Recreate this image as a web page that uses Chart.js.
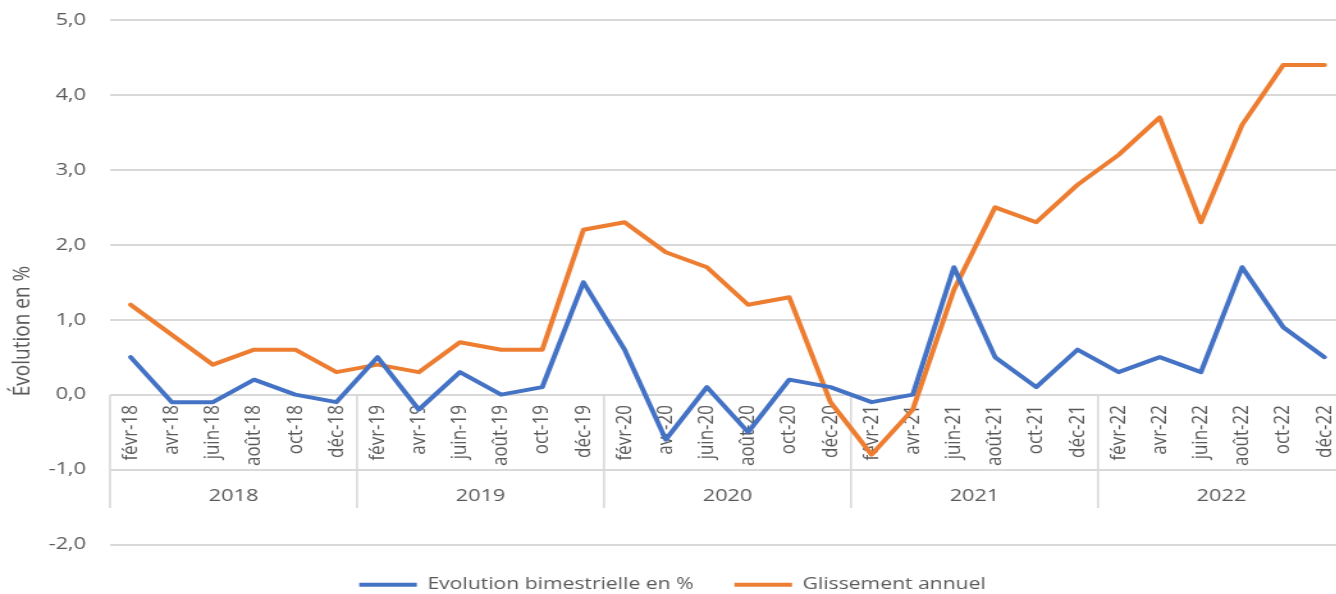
<!DOCTYPE html>
<html lang="fr">
<head>
<meta charset="utf-8">
<title>Évolution en %</title>
<script src="https://cdn.jsdelivr.net/npm/chart.js@4.4.1/dist/chart.umd.min.js"></script>
<style>
  html, body { margin: 0; padding: 0; background: #ffffff; overflow: hidden; width: 1336px; height: 594px; }
  #c { display: block; transform-origin: 0 0; }
</style>
</head>
<body>
<canvas id="c"></canvas>
<script>
// ---- data ----
const categories = [
  'févr-18','avr-18','juin-18','août-18','oct-18','déc-18',
  'févr-19','avr-19','juin-19','août-19','oct-19','déc-19',
  'févr-20','avr-20','juin-20','août-20','oct-20','déc-20',
  'févr-21','avr-21','juin-21','août-21','oct-21','déc-21',
  'févr-22','avr-22','juin-22','août-22','oct-22','déc-22'
];
const years = ['2018','2019','2020','2021','2022'];
const evolutionBimestrielle = [
  0.5,-0.1,-0.1,0.2,0.0,-0.1,
  0.5,-0.2,0.3,0.0,0.1,1.5,
  0.6,-0.6,0.1,-0.5,0.2,0.1,
  -0.1,0.0,1.7,0.5,0.1,0.6,
  0.3,0.5,0.3,1.7,0.9,0.5
];
const glissementAnnuel = [
  1.2,0.8,0.4,0.6,0.6,0.3,
  0.4,0.3,0.7,0.6,0.6,2.2,
  2.3,1.9,1.7,1.2,1.3,-0.1,
  -0.8,-0.2,1.4,2.5,2.3,2.8,
  3.2,3.7,2.3,3.6,4.4,4.4
];
const yTickValues = [-2,-1,0,1,2,3,4,5];
const seriesNames = ['Evolution bimestrielle en %','Glissement annuel'];
const yTitle = 'Évolution en %';

// ---- layout (horizontal stretch of the reference picture) ----
const S = 1.28;
const W = Math.ceil(1352 / S);
const H = 594;
const canvas = document.getElementById('c');
canvas.width = W; canvas.height = H;
canvas.style.transform = 'scaleX(' + S + ')';

const FONT = '"Open Sans", "Noto Sans", sans-serif';
const TXT = '#595959';
const GRID = '#d9d9d9';

const overlay = {
  id: 'overlay',
  beforeDatasetsDraw(chart) {
    const { ctx, scales: { x, y } } = chart;
    const y0 = y.getPixelForValue(0);
    const half = (x.getPixelForValue(1) - x.getPixelForValue(0)) / 2;
    const per = categories.length / years.length;
    ctx.save();
    ctx.strokeStyle = GRID;
    ctx.lineWidth = 1.6;
    for (let g = 0; g <= years.length; g++) {
      const px = x.getPixelForValue(g * per) - half;
      ctx.beginPath(); ctx.moveTo(px, y0); ctx.lineTo(px, 508); ctx.stroke();
    }
    ctx.fillStyle = TXT;
    ctx.font = '17px ' + FONT;
    ctx.textAlign = 'right';
    ctx.textBaseline = 'middle';
    categories.forEach((c, i) => {
      const px = x.getPixelForValue(i);
      ctx.save();
      ctx.translate(px, 405);
      ctx.rotate(-Math.PI / 2);
      ctx.fillText(c, 0, 0);
      ctx.restore();
    });
    ctx.font = '17px ' + FONT;
    ctx.textAlign = 'center';
    years.forEach((yr, g) => {
      const a = x.getPixelForValue(g * per) - half;
      const b = x.getPixelForValue(g * per + per - 1) + half;
      ctx.fillText(yr, (a + b) / 2, 496);
    });
    ctx.save();
    ctx.translate(22 / S, 331);
    ctx.rotate(-Math.PI / 2);
    ctx.font = '19px ' + FONT;
    ctx.fillText(yTitle, 0, 0);
    ctx.restore();
    ctx.restore();
  }
};

new Chart(canvas, {
  type: 'line',
  data: {
    labels: categories,
    datasets: [
      {
        label: seriesNames[0],
        data: evolutionBimestrielle,
        borderColor: '#4472C4',
        backgroundColor: '#4472C4',
        borderWidth: 4,
        pointRadius: 0,
        tension: 0,
        borderJoinStyle: 'round',
        borderCapStyle: 'round'
      },
      {
        label: seriesNames[1],
        data: glissementAnnuel,
        borderColor: '#ED7D31',
        backgroundColor: '#ED7D31',
        borderWidth: 4,
        pointRadius: 0,
        tension: 0,
        borderJoinStyle: 'round',
        borderCapStyle: 'round'
      }
    ]
  },
  options: {
    responsive: false,
    animation: false,
    devicePixelRatio: 1,
    layout: { padding: { left: 0, right: W - 1345 / S, top: 20, bottom: -9 } },
    plugins: {
      legend: {
        position: 'bottom',
        labels: {
          font: { family: FONT, size: 16.5 },
          color: TXT,
          usePointStyle: true,
          pointStyle: 'line',
          pointStyleWidth: 45,
          padding: 32
        }
      },
      tooltip: { enabled: false },
      title: { display: false }
    },
    scales: {
      x: {
        display: false,
        offset: true
      },
      y: {
        min: -2,
        max: 5,
        afterFit(scale) {
          scale.width = 110 / S;
          scale.paddingTop = 0;
          scale.paddingBottom = 0;
        },
        afterBuildTicks(scale) { scale.ticks = yTickValues.map(v => ({ value: v })); },
        grid: { color: GRID, lineWidth: 2, drawTicks: false },
        border: { display: false },
        ticks: {
          padding: 18.7,
          color: TXT,
          font: { family: FONT, size: 17 },
          callback: (v) => Number(v).toFixed(1).replace('.', ',')
        }
      }
    }
  },
  plugins: [overlay]
});
</script>
</body>
</html>
